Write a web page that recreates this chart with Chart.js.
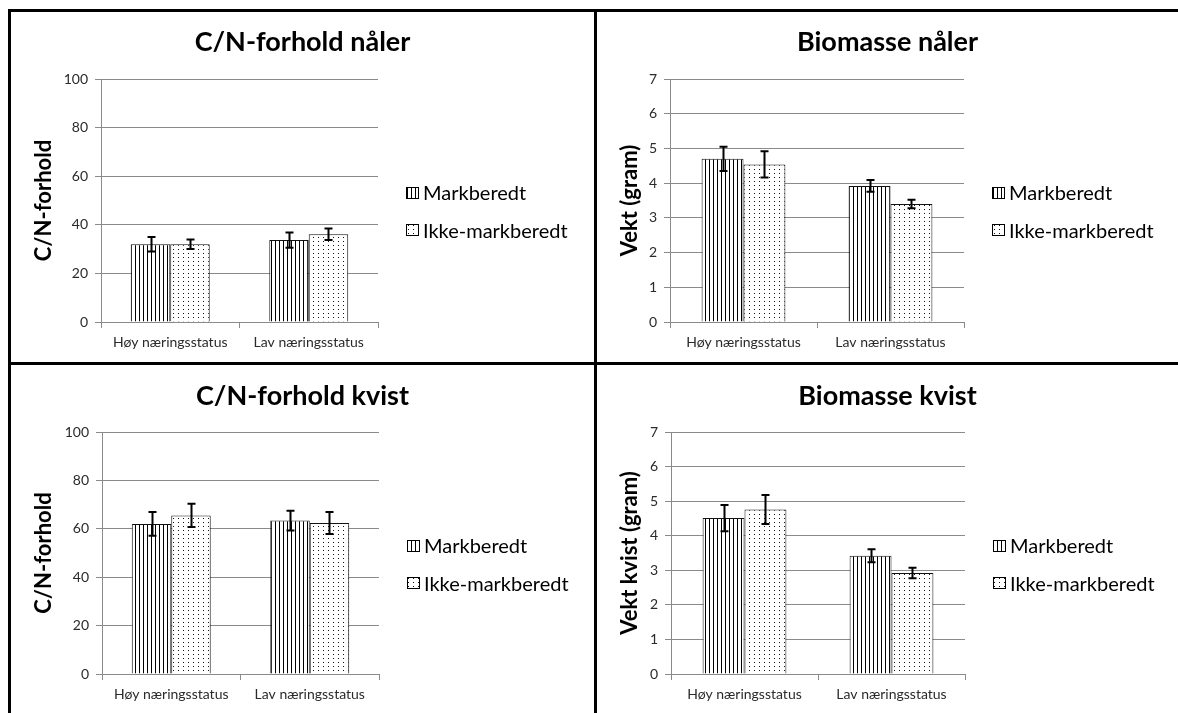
<!DOCTYPE html>
<html>
<head>
<meta charset="utf-8">
<title>C/N-forhold og biomasse</title>
<script src="https://cdn.jsdelivr.net/npm/chart.js@4.4.1/dist/chart.umd.min.js"></script>
<style>
  html, body { margin: 0; padding: 0; background: #fff; width: 1178px; height: 713px; overflow: hidden; }
  .rule { position: absolute; background: #000; }
  .panel { position: absolute; }
  .panel canvas { display: block; }
</style>
</head>
<body>
<!-- frame lines between the four charts -->
<div class="rule" style="left:8px;top:9px;width:1170px;height:3px"></div>
<div class="rule" style="left:8px;top:362px;width:1170px;height:3px"></div>
<div class="rule" style="left:8px;top:9px;width:3px;height:704px"></div>
<div class="rule" style="left:594px;top:9px;width:3px;height:704px"></div>

<div class="panel" style="left:11px;top:12px"><canvas id="cnNaler" width="583" height="350"></canvas></div>
<div class="panel" style="left:597px;top:12px"><canvas id="bioNaler" width="581" height="350"></canvas></div>
<div class="panel" style="left:11px;top:365px"><canvas id="cnKvist" width="583" height="348"></canvas></div>
<div class="panel" style="left:597px;top:365px"><canvas id="bioKvist" width="581" height="348"></canvas></div>

<script>
// ---- data ----
const categories = ['Høy næringsstatus', 'Lav næringsstatus'];
const seriesNames = ['Markberedt', 'Ikke-markberedt'];

const cnNalerMark = [32.0, 33.7];
const cnNalerMarkErr = [3.0, 3.1];
const cnNalerIkke = [32.0, 36.1];
const cnNalerIkkeErr = [2.0, 2.4];

const bioNalerMark = [4.70, 3.92];
const bioNalerMarkErr = [0.35, 0.17];
const bioNalerIkke = [4.54, 3.40];
const bioNalerIkkeErr = [0.38, 0.12];

const cnKvistMark = [62.0, 63.4];
const cnKvistMarkErr = [4.9, 4.1];
const cnKvistIkke = [65.5, 62.4];
const cnKvistIkkeErr = [4.8, 4.5];

const bioKvistMark = [4.51, 3.42];
const bioKvistMarkErr = [0.38, 0.19];
const bioKvistIkke = [4.76, 2.92];
const bioKvistIkkeErr = [0.42, 0.15];

const cnAxis = { min: 0, max: 100, step: 20 };
const bioAxis = { min: 0, max: 7, step: 1 };

// ---- fills: narrow vertical stripes and small dots ----
function makePattern(kind) {
  const tile = document.createElement('canvas');
  const g = tile.getContext('2d');
  if (kind === 'stripes') {
    tile.width = 4; tile.height = 4;
    g.fillStyle = '#fff'; g.fillRect(0, 0, 4, 4);
    g.fillStyle = '#000'; g.fillRect(0, 0, 1, 4);
  } else {
    tile.width = 5; tile.height = 4;
    g.fillStyle = '#fff'; g.fillRect(0, 0, 5, 4);
    g.fillStyle = '#111'; g.fillRect(2, 1, 1, 1);
  }
  return g.createPattern(tile, 'repeat');
}
const stripeFill = makePattern('stripes');
const dotFill = makePattern('dots');

const FONT = 'Lato, "Open Sans", sans-serif';
const GRID = '#8a8a8a';
const INK = '#2a2a2a';

// ---- error bars drawn on top of every bar ----
const errorBars = {
  id: 'errorBars',
  afterDatasetsDraw(chart) {
    const { ctx } = chart;
    const y = chart.scales.y;
    chart.data.datasets.forEach((ds, di) => {
      const meta = chart.getDatasetMeta(di);
      meta.data.forEach((bar, i) => {
        const v = ds.data[i], e = ds.errors[i];
        const x = Math.round(bar.x) + 0.5;
        const yTop = y.getPixelForValue(v + e);
        const yBot = y.getPixelForValue(v - e);
        ctx.save();
        ctx.strokeStyle = '#000';
        ctx.lineWidth = 2;
        ctx.beginPath();
        ctx.moveTo(x, yTop); ctx.lineTo(x, yBot);
        ctx.moveTo(x - 4, yTop); ctx.lineTo(x + 4, yTop);
        ctx.moveTo(x - 4, yBot); ctx.lineTo(x + 4, yBot);
        ctx.stroke();
        ctx.restore();
      });
    });
  }
};

// ---- chart heading and the legend to the right of the plot ----
const panelDecor = {
  id: 'panelDecor',
  afterDraw(chart, args, o) {
    const { ctx, chartArea } = chart;
    ctx.save();
    ctx.fillStyle = '#000';
    ctx.textBaseline = 'middle';
    ctx.textAlign = 'center';
    ctx.font = `bold ${o.titleSize}px ${FONT}`;
    ctx.fillText(o.text, chart.width / 2, o.titleY);

    ctx.textAlign = 'left';
    ctx.font = `${o.legendSize}px ${FONT}`;
    chart.data.datasets.forEach((ds, i) => {
      const cy = chartArea.top + o.legendTop + i * o.legendStep;
      const bx = Math.round(chartArea.right + o.legendGap);
      const by = Math.round(cy - 6);
      ctx.fillStyle = ds.backgroundColor;
      ctx.fillRect(bx, by, 13, 12);
      ctx.strokeStyle = '#000';
      ctx.lineWidth = 1;
      ctx.strokeRect(bx + 0.5, by + 0.5, 12, 11);
      ctx.fillStyle = '#000';
      ctx.fillText(ds.label, bx + 17, cy + 1);
    });
    ctx.restore();
  }
};

function buildChart(id, cfg) {
  const canvas = document.getElementById(id);
  const W = canvas.width, H = canvas.height;
  return new Chart(canvas, {
    type: 'bar',
    data: {
      labels: categories,
      datasets: [
        { label: seriesNames[0], data: cfg.mark, errors: cfg.markErr,
          backgroundColor: stripeFill, borderColor: '#111', borderWidth: 1 },
        { label: seriesNames[1], data: cfg.ikke, errors: cfg.ikkeErr,
          backgroundColor: dotFill, borderColor: '#111', borderWidth: 1 }
      ]
    },
    options: {
      responsive: false,
      animation: false,
      devicePixelRatio: 1,
      categoryPercentage: 0.57,
      barPercentage: 1.0,
      layout: { padding: { top: cfg.top, left: 0, right: W - cfg.right, bottom: 0 } },
      plugins: {
        legend: { display: false },
        title: { display: false },
        tooltip: { enabled: false },
        panelDecor: { text: cfg.title, titleY: cfg.titleY, titleSize: 27,
                      legendSize: 20, legendTop: 114, legendStep: 37.3, legendGap: 28 }
      },
      scales: {
        x: {
          offset: true,
          grid: { display: true, offset: true, drawOnChartArea: false, drawTicks: true,
                  tickLength: 6, color: GRID, lineWidth: 1 },
          border: { display: true, color: GRID, width: 1 },
          ticks: { color: INK, padding: 6, maxRotation: 0, autoSkip: false,
                   font: { family: FONT, size: 14 } },
          afterFit(scale) { scale.height = H - cfg.bottom; }
        },
        y: {
          min: cfg.axis.min, max: cfg.axis.max,
          ticks: { stepSize: cfg.axis.step, color: INK, padding: 7,
                   font: { family: FONT, size: 14 } },
          grid: { color: GRID, lineWidth: 1, drawTicks: true, tickLength: 6 },
          border: { display: true, color: GRID, width: 1 },
          title: { display: true, text: cfg.yTitle, color: '#000',
                   padding: { top: 20, bottom: 0 },
                   font: { family: FONT, size: 22, weight: 'bold' } },
          afterFit(scale) { scale.width = cfg.left; }
        }
      }
    },
    plugins: [errorBars, panelDecor]
  });
}

buildChart('cnNaler', {
  title: 'C/N-forhold nåler', yTitle: 'C/N-forhold', axis: cnAxis,
  mark: cnNalerMark, markErr: cnNalerMarkErr, ikke: cnNalerIkke, ikkeErr: cnNalerIkkeErr,
  left: 90, right: 367, top: 67, bottom: 310, titleY: 30
});
buildChart('bioNaler', {
  title: 'Biomasse nåler', yTitle: 'Vekt (gram)', axis: bioAxis,
  mark: bioNalerMark, markErr: bioNalerMarkErr, ikke: bioNalerIkke, ikkeErr: bioNalerIkkeErr,
  left: 73, right: 367, top: 67, bottom: 310, titleY: 30
});
buildChart('cnKvist', {
  title: 'C/N-forhold kvist', yTitle: 'C/N-forhold', axis: cnAxis,
  mark: cnKvistMark, markErr: cnKvistMarkErr, ikke: cnKvistIkke, ikkeErr: cnKvistIkkeErr,
  left: 91, right: 368, top: 67, bottom: 309, titleY: 31
});
buildChart('bioKvist', {
  title: 'Biomasse kvist', yTitle: 'Vekt kvist (gram)', axis: bioAxis,
  mark: bioKvistMark, markErr: bioKvistMarkErr, ikke: bioKvistIkke, ikkeErr: bioKvistIkkeErr,
  left: 74, right: 368, top: 67, bottom: 309, titleY: 31
});
</script>
</body>
</html>
